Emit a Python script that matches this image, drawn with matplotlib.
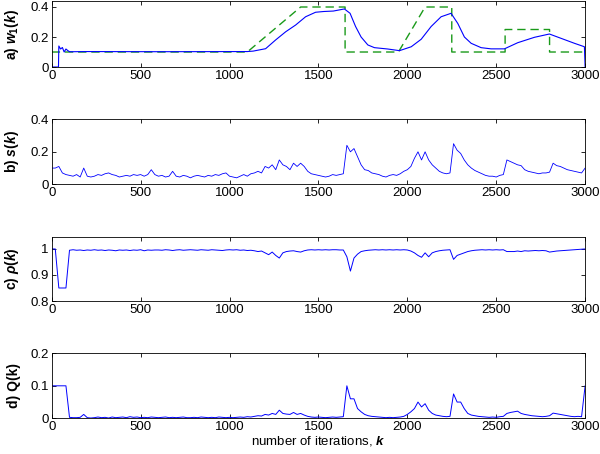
import matplotlib.pyplot as plt
import numpy as np

plt.rcParams["font.family"] = ["Liberation Sans", "DejaVu Sans"]
plt.rcParams["mathtext.fontset"] = "custom"
plt.rcParams["mathtext.it"] = "Liberation Sans:bold:italic"
plt.rcParams["mathtext.rm"] = "Liberation Sans:bold"

# a) estimated weight w1(k) and the true (reference) weight
w_k = [0, 38, 40, 50, 60, 70, 80, 90, 100, 120,
       200, 600, 1100, 1133, 1203, 1259, 1316, 1372, 1428, 1484,
       1530, 1584, 1646, 1678, 1709, 1740, 1778, 1815, 1890, 1956,
       2022, 2078, 2134, 2190, 2246, 2284, 2321, 2359, 2415, 2471,
       2546, 2621, 2715, 2799, 2865, 2940, 2996, 3000]
w_v = [0, 0, 0.14, 0.12, 0.13, 0.10, 0.12, 0.11, 0.102, 0.102,
       0.103, 0.102, 0.103, 0.106, 0.122, 0.18, 0.235, 0.28, 0.335, 0.365,
       0.37, 0.373, 0.387, 0.358, 0.27, 0.20, 0.147, 0.129, 0.12, 0.109,
       0.135, 0.185, 0.27, 0.335, 0.358, 0.29, 0.20, 0.158, 0.129, 0.121,
       0.121, 0.162, 0.198, 0.22, 0.191, 0.158, 0.135, 0]
ref_k = [0, 1100, 1400, 1650, 1650, 1950, 2100, 2250, 2250, 2550, 2550, 2800, 2800, 3000]
ref_v = [0.1, 0.1, 0.4, 0.4, 0.1, 0.1, 0.4, 0.4, 0.1, 0.1, 0.25, 0.25, 0.1, 0.1]

# b), c), d) sampled every 20 iterations
s_v = [0.10, 0.10, 0.11, 0.07, 0.06, 0.055, 0.05, 0.06, 0.045, 0.10,
       0.05, 0.045, 0.05, 0.06, 0.055, 0.065, 0.07, 0.06, 0.055, 0.045,
       0.05, 0.055, 0.05, 0.06, 0.055, 0.06, 0.05, 0.06, 0.09, 0.06,
       0.05, 0.055, 0.045, 0.05, 0.08, 0.05, 0.045, 0.055, 0.05, 0.04,
       0.05, 0.055, 0.05, 0.045, 0.055, 0.05, 0.06, 0.055, 0.065, 0.07,
       0.05, 0.045, 0.04, 0.05, 0.06, 0.05, 0.065, 0.07, 0.08, 0.07,
       0.11, 0.10, 0.12, 0.09, 0.15, 0.12, 0.11, 0.09, 0.13, 0.11,
       0.13, 0.11, 0.08, 0.065, 0.06, 0.055, 0.05, 0.045, 0.05, 0.06,
       0.055, 0.06, 0.065, 0.24, 0.20, 0.22, 0.17, 0.12, 0.09, 0.085,
       0.07, 0.065, 0.06, 0.05, 0.045, 0.055, 0.06, 0.055, 0.065, 0.08,
       0.09, 0.11, 0.16, 0.20, 0.15, 0.20, 0.15, 0.12, 0.10, 0.08,
       0.07, 0.065, 0.07, 0.25, 0.21, 0.19, 0.15, 0.12, 0.10, 0.085,
       0.075, 0.065, 0.055, 0.05, 0.05, 0.045, 0.055, 0.06, 0.15, 0.14,
       0.13, 0.12, 0.115, 0.09, 0.08, 0.075, 0.07, 0.065, 0.07, 0.07,
       0.075, 0.13, 0.115, 0.11, 0.10, 0.09, 0.085, 0.08, 0.075, 0.07,
       0.10]
rho_v = [1.0, 1.0, 0.85, 0.85, 0.85, 0.995, 0.997, 0.995, 0.996, 0.994,
         0.996, 0.995, 0.997, 0.995, 0.996, 0.994, 0.996, 0.995, 0.993, 0.996,
         0.995, 0.996, 0.994, 0.996, 0.995, 0.997, 0.993, 0.996, 0.995, 0.996,
         0.996, 0.995, 0.997, 0.996, 0.994, 0.996, 0.997, 0.995, 0.996, 0.997,
         0.996, 0.995, 0.997, 0.996, 0.995, 0.997, 0.996, 0.995, 0.994, 0.996,
         0.997, 0.996, 0.997, 0.995, 0.996, 0.994, 0.995, 0.993, 0.99, 0.992,
         0.985, 0.978, 0.988, 0.975, 0.965, 0.985, 0.99, 0.992, 0.993, 0.99,
         0.988, 0.993, 0.996, 0.997, 0.996, 0.997, 0.996, 0.997, 0.996, 0.997,
         0.997, 0.996, 0.996, 0.97, 0.915, 0.965, 0.98, 0.99, 0.993, 0.995,
         0.996, 0.997, 0.996, 0.997, 0.996, 0.997, 0.996, 0.997, 0.996, 0.997,
         0.996, 0.992, 0.985, 0.975, 0.968, 0.985, 0.97, 0.985, 0.99, 0.993,
         0.995, 0.996, 0.997, 0.96, 0.975, 0.98, 0.985, 0.99, 0.993, 0.995,
         0.996, 0.997, 0.996, 0.997, 0.996, 0.997, 0.996, 0.997, 0.99, 0.99,
         0.99, 0.992, 0.99, 0.993, 0.992, 0.993, 0.994, 0.993, 0.994, 0.993,
         0.988, 0.99, 0.992, 0.993, 0.994, 0.995, 0.996, 0.997, 0.998, 0.999,
         1.0]
q_v = [0.1, 0.1, 0.1, 0.1, 0.1, 0.003, 0.002, 0.002, 0.003, 0.012,
       0.002, 0.001, 0.002, 0.004, 0.002, 0.003, 0.001, 0.004, 0.002, 0.003,
       0.004, 0.002, 0.005, 0.003, 0.004, 0.002, 0.003, 0.002, 0.004, 0.003,
       0.002, 0.003, 0.004, 0.002, 0.003, 0.002, 0.003, 0.004, 0.002, 0.002,
       0.003, 0.002, 0.004, 0.003, 0.002, 0.003, 0.002, 0.004, 0.003, 0.002,
       0.003, 0.002, 0.003, 0.004, 0.003, 0.005, 0.004, 0.006, 0.008, 0.007,
       0.012, 0.01, 0.015, 0.012, 0.025, 0.015, 0.013, 0.012, 0.018, 0.012,
       0.015, 0.01, 0.006, 0.004, 0.003, 0.004, 0.003, 0.002, 0.003, 0.004,
       0.003, 0.004, 0.005, 0.1, 0.06, 0.06, 0.03, 0.02, 0.012, 0.008,
       0.006, 0.005, 0.004, 0.003, 0.002, 0.003, 0.002, 0.003, 0.004, 0.006,
       0.012, 0.02, 0.03, 0.05, 0.035, 0.045, 0.025, 0.015, 0.01, 0.008,
       0.006, 0.005, 0.006, 0.075, 0.05, 0.05, 0.03, 0.015, 0.01, 0.008,
       0.006, 0.005, 0.004, 0.003, 0.004, 0.003, 0.005, 0.006, 0.015, 0.018,
       0.02, 0.022, 0.015, 0.012, 0.01, 0.008, 0.007, 0.006, 0.005, 0.006,
       0.008, 0.016, 0.014, 0.012, 0.01, 0.008, 0.006, 0.005, 0.006, 0.005,
       0.1]
k20 = np.linspace(0, 3000, len(s_v))

blue = "#0000ff"
green = "#1a9a1a"

fig = plt.figure(figsize=(6, 4.54), dpi=100)
rects = [(0.0862, 0.8524, 0.889, 0.1454),
         (0.0862, 0.594, 0.889, 0.1432),
         (0.0862, 0.337, 0.889, 0.1416),
         (0.0862, 0.0786, 0.889, 0.1432)]
axes = [fig.add_axes(r) for r in rects]

ax = axes[0]
ax.plot(ref_k, ref_v, color=green, lw=1.0, ls=(0, (6, 3.5)))
ax.plot(w_k, w_v, color=blue, lw=0.8)
ax.set_ylim(0, 0.44)
ax.set_yticks([0, 0.2, 0.4])
ax.set_yticklabels(["0", "0.2", "0.4"])
ax.set_ylabel(r"a) $w_1(k)$", fontweight="bold")

ax = axes[1]
ax.plot(k20, s_v, color=blue, lw=0.6)
ax.set_ylim(0, 0.4)
ax.set_yticks([0, 0.2, 0.4])
ax.set_yticklabels(["0", "0.2", "0.4"])
ax.set_ylabel(r"b) $s(k)$", fontweight="bold")

ax = axes[2]
ax.plot(k20, rho_v, color=blue, lw=0.7)
ax.set_ylim(0.8, 1.047)
ax.set_yticks([0.8, 0.9, 1.0])
ax.set_yticklabels(["0.8", "0.9", "1"])
ax.set_ylabel(r"c) $\rho(k)$", fontweight="bold")

ax = axes[3]
ax.plot(k20, q_v, color=blue, lw=0.7)
ax.set_ylim(0, 0.2)
ax.set_yticks([0, 0.1, 0.2])
ax.set_yticklabels(["0", "0.1", "0.2"])
ax.set_ylabel("d) Q(k)", fontweight="bold")
ax.set_xlabel(r"number of iterations, $k$", fontsize=9.5, labelpad=1)

for ax in axes:
    ax.set_xlim(0, 3000)
    ax.set_xticks([0, 500, 1000, 1500, 2000, 2500, 3000])
    ax.tick_params(direction="in", top=True, right=True, length=3,
                   labelsize=9.5, pad=2, width=0.6)
    for sp in ax.spines.values():
        sp.set_linewidth(0.6)
    ax.yaxis.set_label_coords(-0.058, 0.5)
    ax.yaxis.label.set_size(10)

fig.savefig("out.png", dpi=100)
